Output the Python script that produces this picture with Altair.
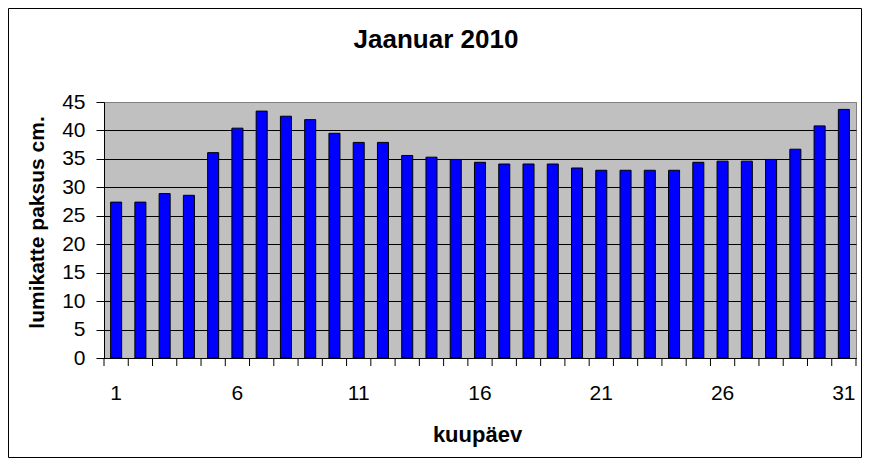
import altair as alt
import pandas as pd

# ---- data ----
days = list(range(1, 32))
depth = [27.4, 27.4, 28.9, 28.6, 36.1, 40.4, 43.4, 42.5, 41.9, 39.5,
         37.9, 37.9, 35.6, 35.3, 34.9, 34.4, 34.1, 34.1, 34.1, 33.4,
         33.0, 33.0, 33.0, 33.0, 34.4, 34.6, 34.6, 34.9, 36.7, 40.8, 43.7]
x_label_days = [1, 6, 11, 16, 21, 26, 31]
y_ticks = [0, 5, 10, 15, 20, 25, 30, 35, 40, 45]

df = pd.DataFrame({"day": days, "depth": depth})

W, H = 752, 256
step = W / len(days)
FONT = "Liberation Sans"

x_scale = alt.Scale(domain=days, paddingInner=0.545, paddingOuter=0.2727)
y_scale = alt.Scale(domain=[0, 45], nice=False)

x_axis = alt.Axis(
    values=x_label_days, labelAngle=0, ticks=False, tickSize=0,
    domain=True, domainColor="black", domainWidth=1,
    labelFontSize=21, labelFont=FONT, labelColor="black", labelPadding=24,
    title="kuupäev", titleFontSize=22, titleFont=FONT, titleFontWeight="bold",
    titleColor="black", titleX=373, titleY=83, titleBaseline="alphabetic",
    grid=False,
)
y_axis = alt.Axis(
    values=y_ticks, grid=True,
    gridColor={"condition": {"test": "datum.value == 45", "value": "#808080"}, "value": "black"},
    gridWidth=1, gridOpacity=1,
    ticks=True, tickSize=8, tickColor="black", tickWidth=1,
    domain=True, domainColor="black", domainWidth=1,
    labelFontSize=21, labelFont=FONT, labelColor="black", labelPadding=11,
    title="lumikatte paksus cm.", titleFontSize=21, titleFont=FONT,
    titleFontWeight="bold", titleColor="black", titleX=-67, titleY=120,
    titleBaseline="middle", titleAlign="center", titleAngle=270,
)

bars = alt.Chart(df).mark_bar(color="#0000FF", stroke="black", strokeWidth=1).encode(
    x=alt.X("day:O", scale=x_scale, axis=x_axis),
    y=alt.Y("depth:Q", scale=y_scale, axis=y_axis),
)

ticks = alt.Chart(df).mark_rule(color="black", strokeWidth=1, xOffset=-step / 2).encode(
    x=alt.X("day:O", scale=x_scale, axis=x_axis, bandPosition=0.5),
    y=alt.value(H),
    y2=alt.value(H + 8),
)

end_tick = alt.Chart(df).transform_filter("datum.day == 31").mark_rule(
    color="black", strokeWidth=1, xOffset=step / 2
).encode(
    x=alt.X("day:O", scale=x_scale, axis=x_axis, bandPosition=0.5),
    y=alt.value(H),
    y2=alt.value(H + 8),
)

border = alt.Chart(pd.DataFrame({"k": [0]})).mark_rect(
    fill="transparent", stroke="black", strokeWidth=1
).encode(
    x=alt.value(-95.5), x2=alt.value(757.5),
    y=alt.value(-93.5), y2=alt.value(355.5),
)

chart = alt.layer(bars, ticks, end_tick, border).properties(
    width=W, height=H,
    title=alt.TitleParams(
        text="Jaanuar 2010", fontSize=26, font=FONT, fontWeight="bold",
        color="black", anchor="middle", dx=-44, offset=-66, baseline="alphabetic",
    ),
    padding={"left": 96, "top": 94, "right": 6, "bottom": 100},
    autosize=alt.AutoSizeParams(type="none"),
    background="white",
).configure_view(fill="#C0C0C0", stroke="#808080", strokeWidth=1)

chart.save("out.html", embed_options={"renderer": "svg", "actions": False})
